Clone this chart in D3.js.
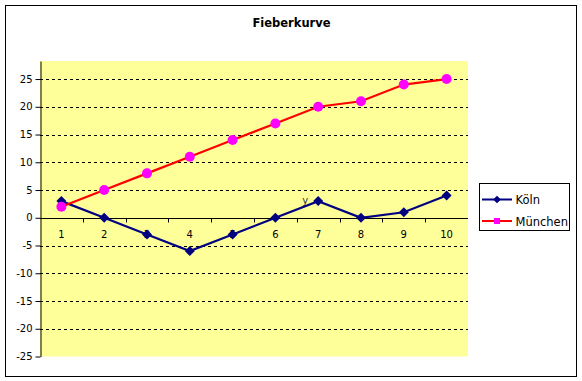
<!DOCTYPE html>
<html><head><meta charset="utf-8">
<script src="https://cdn.jsdelivr.net/npm/d3@7"></script>
<style>body{margin:0;background:#fff}svg{display:block}</style>
</head><body>
<script>
const categories = ["1","2","3","4","5","6","7","8","9","10"];
const koeln = [3, 0, -3, -6, -3, 0, 3, 0, 1, 4];
const muenchen = [2, 5, 8, 11, 14, 17, 20, 21, 24, 25];
const yTicks = [-25, -20, -15, -10, -5, 0, 5, 10, 15, 20, 25];
const seriesNames = ["Köln", "München"];
const title = "Fieberkurve";

const W = 582, H = 381;
const font = "Tahoma, Verdana, 'DejaVu Sans', sans-serif";
const svg = d3.select("body").append("svg").attr("width", W).attr("height", H);

svg.append("rect").attr("x", 5.5).attr("y", 5.5).attr("width", 571).attr("height", 371)
  .attr("fill", "#fff").attr("stroke", "#000").attr("stroke-width", 1);

const L = 40, R = 468, T = 61, B = 356.5;
const x = d3.scaleBand().domain(categories).range([L, R]);
const y = d3.scaleLinear().domain([-25, 28.25]).range([B, T]);

svg.append("rect").attr("x", L).attr("y", T).attr("width", R - L).attr("height", B - T).attr("fill", "#FFFF99");

// gridlines
svg.append("g").selectAll("line").data(yTicks.filter(d => d !== 0 && d !== -25)).join("line")
  .attr("x1", L).attr("x2", R).attr("y1", d => Math.round(y(d)) + 0.5).attr("y2", d => Math.round(y(d)) + 0.5)
  .attr("stroke", "#000").attr("stroke-dasharray", "3,3").attr("stroke-width", 1);

svg.append("text").attr("x", W / 2 + 0.5).attr("y", 27).attr("text-anchor", "middle")
  .attr("font-family", font).attr("font-size", 11.5).attr("font-weight", "bold").text(title);

// y axis
const yAxis = svg.append("g").attr("transform", `translate(${L + 0.5},0)`)
  .call(d3.axisLeft(y).tickValues(yTicks).tickFormat(d => String(d)).tickSize(5).tickPadding(3).tickSizeOuter(0));
yAxis.select(".domain").attr("stroke", "#000");
yAxis.selectAll(".tick line").attr("stroke", "#000");
yAxis.selectAll("text").attr("font-family", font).attr("font-size", 10).attr("fill", "#000");

// x axis at 0
const y0 = Math.round(y(0)) + 0.5;
svg.append("line").attr("x1", L).attr("x2", R).attr("y1", y0).attr("y2", y0).attr("stroke", "#000");
svg.append("g").selectAll("line").data(categories.slice(1)).join("line")
  .attr("x1", d => Math.round(x(d)) + 0.5).attr("x2", d => Math.round(x(d)) + 0.5)
  .attr("y1", y0).attr("y2", y0 + 4).attr("stroke", "#000");
svg.append("g").selectAll("text").data(categories).join("text")
  .attr("x", d => x(d) + x.bandwidth() / 2).attr("y", y0 + 19).attr("text-anchor", "middle")
  .attr("font-family", font).attr("font-size", 10).text(d => d);

const cx = i => x(categories[i]) + x.bandwidth() / 2;

// stray label
svg.append("text").attr("x", cx(6) - 13).attr("y", y(3) + 3).attr("text-anchor", "middle")
  .attr("font-family", font).attr("font-size", 10).attr("fill", "#333").text("y");

const line = d3.line().x((d, i) => cx(i)).y(d => y(d));

svg.append("path").datum(koeln).attr("d", line).attr("fill", "none").attr("stroke", "#000080").attr("stroke-width", 2.2);
svg.append("path").datum(muenchen).attr("d", line).attr("fill", "none").attr("stroke", "#FF0000").attr("stroke-width", 2.2);

const diamond = d3.symbol().type(d3.symbolSquare).size(50);
svg.append("g").selectAll("path").data(koeln).join("path")
  .attr("d", diamond).attr("transform", (d, i) => `translate(${cx(i)},${y(d)}) rotate(45)`).attr("fill", "#000080");
svg.append("g").selectAll("circle").data(muenchen).join("circle")
  .attr("cx", (d, i) => cx(i)).attr("cy", d => y(d)).attr("r", 5).attr("fill", "#FF00FF");

// legend
const lg = svg.append("g");
lg.append("rect").attr("x", 479.5).attr("y", 183.5).attr("width", 90).attr("height", 47).attr("fill", "#fff").attr("stroke", "#000");
const colors = [["#000080", "#000080"], ["#FF0000", "#FF00FF"]];
seriesNames.forEach((n, i) => {
  const ly = 199.5 + i * 21.5;
  lg.append("line").attr("x1", 482).attr("x2", 512).attr("y1", ly).attr("y2", ly).attr("stroke", colors[i][0]).attr("stroke-width", 2);
  if (i === 0) lg.append("path").attr("d", d3.symbol().type(d3.symbolSquare).size(30)()).attr("transform", `translate(497,${ly}) rotate(45)`).attr("fill", colors[i][1]);
  else lg.append("rect").attr("x", 494).attr("y", ly - 3).attr("width", 6).attr("height", 6).attr("fill", colors[i][1]);
  lg.append("text").attr("x", 515.5).attr("y", ly + 4.5).attr("font-family", font).attr("font-size", 11.5).text(n);
});
</script>
</body></html>
